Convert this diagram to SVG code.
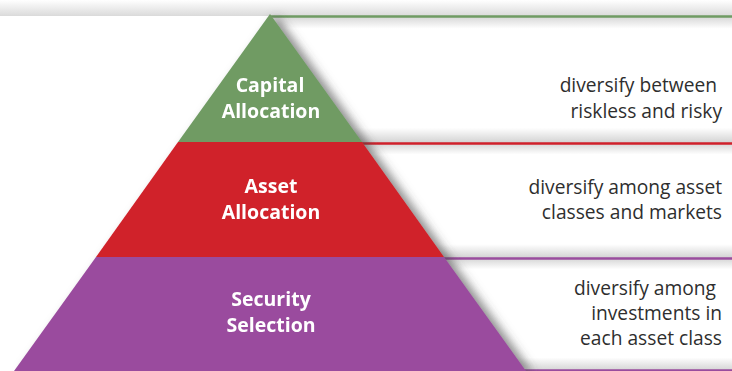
<svg xmlns="http://www.w3.org/2000/svg" width="732" height="371" viewBox="0 0 732 371">
<style>
.lbl{font-family:"Open Sans","Liberation Sans",sans-serif;font-weight:bold;font-size:19.5px;fill:#ffffff;text-anchor:middle}
.desc{font-family:"Open Sans","Liberation Sans",sans-serif;font-size:19.2px;fill:#2e2e2e;text-anchor:end}
.ln{stroke-width:2.5;fill:none}
</style>
<defs>
<linearGradient id="panel" x1="0" y1="0" x2="0" y2="1">
<stop offset="0" stop-color="#d4d4d4"/>
<stop offset="0.1" stop-color="#ffffff"/>
<stop offset="0.88" stop-color="#ffffff"/>
<stop offset="1" stop-color="#d2d2d2"/>
</linearGradient>
<linearGradient id="topbg" x1="0" y1="0" x2="0" y2="1">
<stop offset="0" stop-color="#ffffff"/>
<stop offset="1" stop-color="#dadada"/>
</linearGradient>
<filter id="shadow" x="-10%" y="-10%" width="130%" height="130%">
<feDropShadow dx="7" dy="2" stdDeviation="5" flood-color="#444" flood-opacity="0.6"/>
</filter>
</defs>
<rect x="0" y="0" width="732" height="371" fill="#ffffff"/>
<rect x="0" y="0" width="732" height="16" fill="url(#topbg)"/>
<rect x="270" y="16" width="462" height="127" fill="url(#panel)"/>
<rect x="330" y="143" width="402" height="115" fill="url(#panel)"/>
<rect x="420" y="258" width="312" height="113" fill="url(#panel)"/>
<g id="connectors">
<line class="ln" x1="270" y1="16.5" x2="732" y2="16.5" stroke="#6f9b63"/>
<line class="ln" x1="362" y1="143.5" x2="732" y2="143.5" stroke="#d0212b"/>
<line class="ln" x1="443" y1="258.5" x2="732" y2="258.5" stroke="#9a4c9e"/>
<line class="ln" x1="520" y1="370.5" x2="732" y2="370.5" stroke="#9a4c9e"/>
</g>
<g filter="url(#shadow)">
<g id="capital-allocation">
<polygon points="270,14 362,142 178,142" fill="#6f9b63"/>
<text class="lbl" x="270" y="92">Capital</text>
<text class="lbl" x="271" y="118">Allocation</text>
</g>
<g id="asset-allocation">
<polygon points="178,142 362,142 444,257 96,257" fill="#d0212b"/>
<text class="lbl" x="271" y="193">Asset</text>
<text class="lbl" x="271" y="219">Allocation</text>
</g>
<g id="security-selection">
<polygon points="96,257 444,257 526,371 14,371" fill="#9a4c9e"/>
<text class="lbl" x="271" y="306">Security</text>
<text class="lbl" x="271" y="332">Selection</text>
</g>
</g>
<g id="desc-capital">
<text class="desc" x="717" y="92">diversify between</text>
<text class="desc" x="722" y="118">riskless and risky</text>
</g>
<g id="desc-asset">
<text class="desc" x="722" y="194">diversify among asset</text>
<text class="desc" x="722" y="219">classes and markets</text>
</g>
<g id="desc-security">
<text class="desc" x="716" y="295">diversify among</text>
<text class="desc" x="722" y="320">investments in</text>
<text class="desc" x="722" y="345">each asset class</text>
</g>
</svg>
